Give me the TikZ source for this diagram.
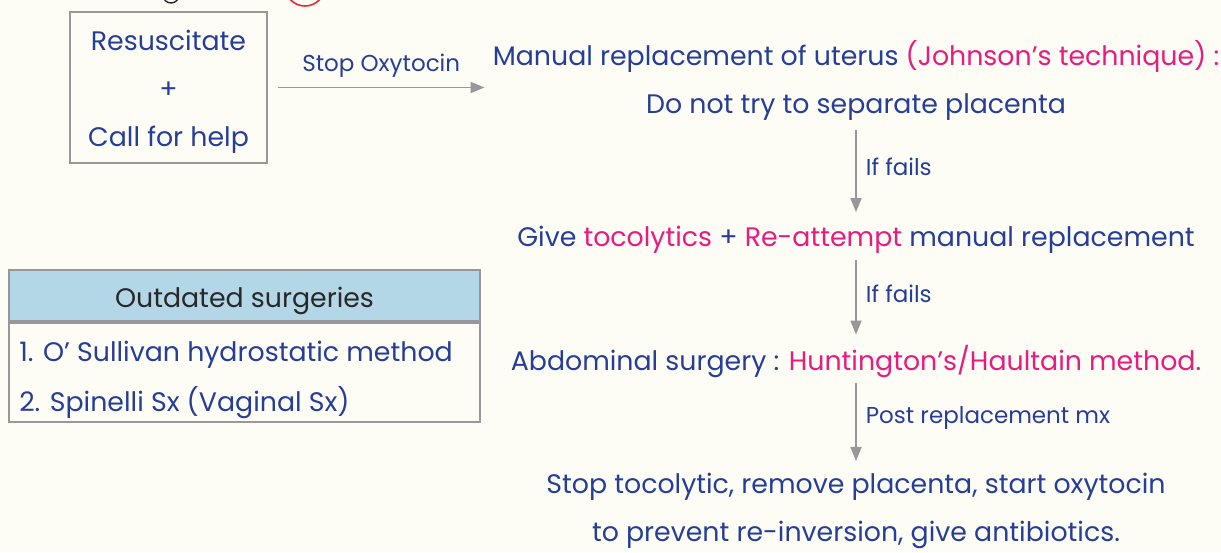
\documentclass[tikz,border=0pt]{standalone}
\usepackage{fontspec}
\setmainfont{Poppins}
\usetikzlibrary{arrows.meta}
\definecolor{paperCream}{RGB}{253,253,245}
\definecolor{inkBlue}{RGB}{38,62,152}
\definecolor{inkPink}{RGB}{232,28,128}
\definecolor{inkBlack}{RGB}{40,40,40}
\definecolor{lineGray}{RGB}{152,152,154}
\definecolor{headBlue}{RGB}{180,215,232}
\definecolor{markRed}{RGB}{232,40,50}
\newcommand{\Pk}[1]{\textcolor{inkPink}{#1}}

\begin{document}
\begin{tikzpicture}[x=1pt,y=-1pt,
  txt/.style={text=inkBlue,font=\fontsize{26.8}{48}\selectfont,align=center,inner sep=0pt},
  lbl/.style={text=inkBlue,font=\fontsize{23}{24}\selectfont,inner sep=0pt},
  flow/.style={draw=lineGray,line width=1.8pt,-{Triangle[length=14pt,width=11pt]}}]
\useasboundingbox[fill=paperCream] (0,0) rectangle (1221,552);
\clip (0,0) rectangle (1221,552);
% marks cut by the top edge
\draw[inkBlack,line width=1.4pt] (171,-5) circle (8);
\draw[markRed,line width=1.6pt] (305,-14) circle (20);
% first aid box
\node[draw=lineGray,line width=1.8pt,minimum width=197pt,minimum height=151pt] (helpbox) at (168.5,87.5) {};
\node[txt] (helptxt) at ([yshift=-4pt]helpbox.center) {Resuscitate\\+\\Call for help};
% steps
\node[txt] (step1) at (856,80) {Manual replacement of uterus \Pk{(Johnson’s technique) :}\\Do not try to separate placenta};
\node[txt] (step2) at (856,240) {Give \Pk{tocolytics} + \Pk{Re-attempt} manual replacement};
\node[txt] (step3) at (856,361) {Abdominal surgery : \Pk{Huntington’s/Haultain method.}};
\node[txt] (step4) at (856,511) {Stop tocolytic, remove placenta, start oxytocin\\to prevent re-inversion, give antibiotics.};
% connectors
\draw[flow] ([xshift=10pt]helpbox.east) -- node[lbl,above=9pt]{Stop Oxytocin} ([xshift=-8pt]helpbox.east -| step1.west);
\draw[flow] ([yshift=-10pt]step1.south) -- node[lbl,pos=0.45,right=9pt]{If fails} ([yshift=14pt]step2.north);
\draw[flow] ([yshift=-6pt]step2.south) -- node[lbl,pos=0.45,right=9pt]{If fails} ([yshift=10pt]step3.north);
\draw[flow] ([yshift=-6pt]step3.south) -- node[lbl,pos=0.45,right=9pt]{Post replacement mx} ([yshift=12pt]step4.north);
% outdated surgeries table
\node[draw=lineGray,line width=1.8pt,fill=headBlue,minimum width=471pt,minimum height=51pt] (tblhead) at (244.5,295.5) {};
\node[text=inkBlack,font=\fontsize{26.8}{28}\selectfont,inner sep=0pt] (headtxt) at ([yshift=-5pt]tblhead.center) {Outdated surgeries};
\node[draw=lineGray,line width=1.8pt,minimum width=471pt,minimum height=99pt,anchor=north] (tblbody) at (tblhead.south) {};
\node[txt,anchor=west] (row1) at ([xshift=11pt,yshift=18pt]tblbody.west) {1. O’ Sullivan hydrostatic method};
\node[txt,anchor=west] (row2) at ([xshift=11pt,yshift=-30pt]tblbody.west) {2. Spinelli Sx (Vaginal Sx)};
\end{tikzpicture}
\end{document}
